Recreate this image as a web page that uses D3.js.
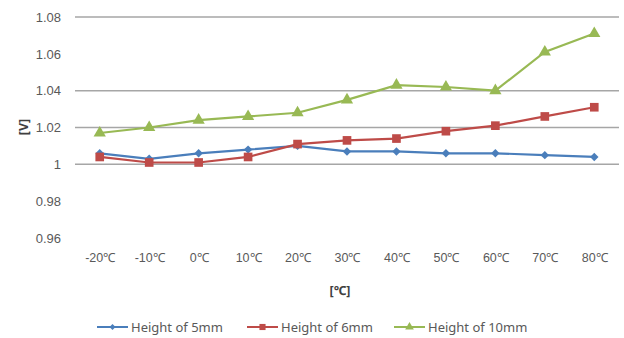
<!DOCTYPE html>
<html>
<head>
<meta charset="utf-8">
<script src="https://cdn.jsdelivr.net/npm/d3@7"></script>
<style>
  html, body { margin: 0; padding: 0; background: #fff; }
  svg { display: block; font-family: "Noto Sans", "DejaVu Sans", sans-serif; }
</style>
</head>
<body>
<svg id="chart" width="624" height="338"></svg>
<script>
// Temperature steps along the x axis
const temperatures = ["-20℃", "-10℃", "0℃", "10℃", "20℃", "30℃", "40℃", "50℃", "60℃", "70℃", "80℃"];

// Output voltage [V] for each sensor height
const height5mm  = [1.006, 1.003, 1.006, 1.008, 1.010, 1.007, 1.007, 1.006, 1.006, 1.005, 1.004];
const height6mm  = [1.004, 1.001, 1.001, 1.004, 1.011, 1.013, 1.014, 1.018, 1.021, 1.026, 1.031];
const height10mm = [1.017, 1.020, 1.024, 1.026, 1.028, 1.035, 1.043, 1.042, 1.040, 1.061, 1.071];

const yTicks = [0.96, 0.98, 1.00, 1.02, 1.04, 1.06, 1.08];
const gridTicks = [1.00, 1.02, 1.04, 1.08];

const seriesNames = ["Height of 5mm", "Height of 6mm", "Height of 10mm"];

const series = [
  { name: seriesNames[0], values: height5mm,  color: "#4a7ebb", symbol: d3.symbolDiamond2, size: 45 },
  { name: seriesNames[1], values: height6mm,  color: "#be4b48", symbol: d3.symbolSquare, size: 75 },
  { name: seriesNames[2], values: height10mm, color: "#98b954", symbol: d3.symbolTriangle, size: 65 }
];

const svg = d3.select("#chart");
const plot = { left: 75, right: 619, top: 17, bottom: 238 };

const x = d3.scalePoint()
  .domain(temperatures)
  .range([plot.left, plot.right])
  .padding(0.5);

const y = d3.scaleLinear()
  .domain([0.96, 1.08])
  .range([plot.bottom, plot.top]);

// Horizontal gridlines
svg.append("g")
  .selectAll("line")
  .data(gridTicks)
  .join("line")
  .attr("x1", plot.left)
  .attr("x2", plot.right)
  .attr("y1", d => y(d))
  .attr("y2", d => y(d))
  .attr("stroke", "#a6a6a6")
  .attr("stroke-width", 1.5);

// Y axis labels
const yAxis = d3.axisLeft(y)
  .tickValues(yTicks)
  .tickSize(0)
  .tickPadding(0)
  .tickFormat(d => d3.format("")(+d.toFixed(2)));
const yg = svg.append("g").attr("transform", `translate(${plot.left - 14},0)`).call(yAxis);
yg.select(".domain").remove();
yg.selectAll("text").attr("font-size", 13).attr("fill", "#595959");

// X axis labels
const xAxis = d3.axisBottom(x).tickSize(0).tickPadding(0);
const xg = svg.append("g").attr("transform", `translate(0,${plot.bottom + 15})`).call(xAxis);
xg.select(".domain").remove();
xg.selectAll("text").attr("font-size", 12.5).attr("fill", "#595959");

// Axis titles
svg.append("text")
  .attr("transform", `translate(28,127) rotate(-90)`)
  .attr("text-anchor", "middle")
  .attr("font-size", 12.5)
  .attr("font-weight", "bold")
  .attr("fill", "#404040")
  .text("[V]");

svg.append("text")
  .attr("x", 340)
  .attr("y", 295)
  .attr("text-anchor", "middle")
  .attr("font-size", 12.5)
  .attr("font-weight", "bold")
  .attr("fill", "#404040")
  .text("[℃]");

// Lines and markers
const line = d3.line()
  .x((d, i) => x(temperatures[i]))
  .y(d => y(d));

series.forEach(s => {
  const g = svg.append("g");
  g.append("path")
    .datum(s.values)
    .attr("d", line)
    .attr("fill", "none")
    .attr("stroke", s.color)
    .attr("stroke-width", 2.2);
  g.selectAll("path.marker")
    .data(s.values)
    .join("path")
    .attr("class", "marker")
    .attr("transform", (d, i) => `translate(${x(temperatures[i])},${y(d)})`)
    .attr("d", d3.symbol().type(s.symbol).size(s.size))
    .attr("fill", s.color);
});

// Legend
const legendX = [97, 247, 394];
const legend = svg.append("g");
series.forEach((s, i) => {
  const g = legend.append("g").attr("transform", `translate(${legendX[i]},327)`);
  g.append("line")
    .attr("x1", 0).attr("x2", 31)
    .attr("stroke", s.color)
    .attr("stroke-width", 2);
  g.append("path")
    .attr("transform", "translate(15.5,0)")
    .attr("d", d3.symbol().type(s.symbol).size(s.size * 0.5))
    .attr("fill", s.color);
  g.append("text")
    .attr("x", 34)
    .attr("y", 4.5)
    .attr("font-size", 13)
    .attr("fill", "#595959")
    .text(s.name);
});
</script>
</body>
</html>
